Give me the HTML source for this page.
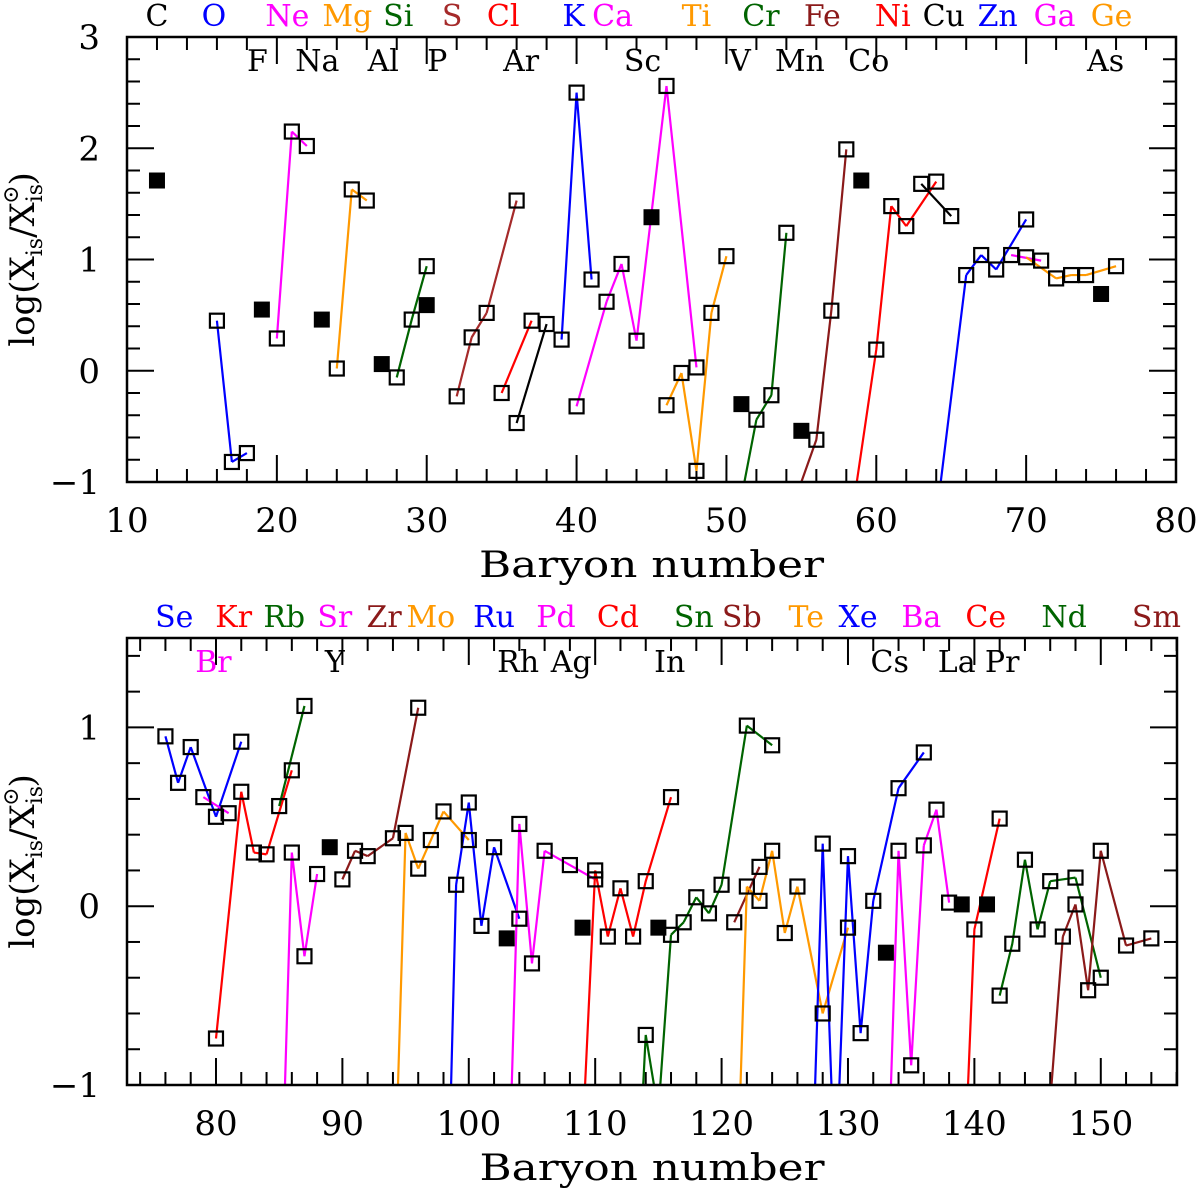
<!DOCTYPE html>
<html><head><meta charset="utf-8"><style>
html,body{margin:0;padding:0;background:#fff;width:1200px;height:1196px;overflow:hidden;}
svg{display:block;overflow:hidden;font-family:"DejaVu Serif","Liberation Serif",serif;}
</style></head><body>
<svg id="chart" width="1200" height="1196" viewBox="0 0 1200 1196" xmlns="http://www.w3.org/2000/svg">
<defs>
<clipPath id="clipTop"><rect x="127" y="37" width="1049" height="445"/></clipPath>
<clipPath id="clipBot"><rect x="127" y="638" width="1050" height="447"/></clipPath>
</defs>
</svg>
<script>
// ---------- data: top panel ----------
const topXTicks = [10,20,30,40,50,60,70,80];
const topYTicks = [-1,0,1,2,3];
const topFilledA = [12,19,23,27,30,45,51,55,59,75];
const topFilledV = [1.71,0.55,0.46,0.06,0.59,1.38,-0.30,-0.54,1.71,0.69];
const topSeriesNames = ['O','Ne','Mg','Si','S','Cl','Ar','K','Ca','Ti','Cr','Fe','Ni','Cu','Zn','Ga','Ge'];
const topSeriesA = [
 [16,17,18],[20,21,22],[24,25,26],[28,29,30],[32,33,34,36],[35,37],[36,38],[39,40,41],
 [40,42,43,44,46,48],[46,47,48,49,50],[50,52,53,54],[54,56,57,58],[58,60,61,62,64],[63,65],
 [64,66,67,68,70],[69,71],[70,72,73,74,76]];
const topSeriesV = [
 [0.45,-0.82,-0.74],[0.29,2.15,2.02],[0.02,1.63,1.53],[-0.06,0.46,0.94],[-0.23,0.30,0.52,1.53],[-0.20,0.45],[-0.47,0.42],[0.28,2.50,0.82],
 [-0.32,0.62,0.96,0.27,2.56,0.03],[-0.31,-0.02,-0.90,0.52,1.03],[-1.84,-0.44,-0.22,1.24],[-1.38,-0.62,0.54,1.99],[-1.64,0.19,1.48,1.30,1.70],[1.68,1.39],
 [-1.33,0.86,1.04,0.91,1.36],[1.04,0.99],[1.02,0.83,0.86,0.86,0.94]];
const topLabels1 = ['C','O','Ne','Mg','Si','S','Cl','K','Ca','Ti','Cr','Fe','Ni','Cu','Zn','Ga','Ge'];
const topLabels1A = [12,15.8,20.7,24.7,28.1,31.7,35.1,39.8,42.4,48,52.3,56.4,61.1,64.5,68.1,71.9,75.7];
const topLabels2 = ['F','Na','Al','P','Ar','Sc','V','Mn','Co','As'];
const topLabels2A = [18.7,22.7,27.1,30.7,36.3,44.4,50.9,54.9,59.5,75.3];

// ---------- data: bottom panel ----------
const botXTicks = [80,90,100,110,120,130,140,150];
const botYTicks = [-1,0,1];
const botFilledA = [89,103,109,115,133,139,141];
const botFilledV = [0.33,-0.18,-0.12,-0.12,-0.26,0.01,0.01];
const botSeriesNames = ['Se','Br','Kr','Rb','Sr','Zr','Mo','Ru','Pd','Cd','Sn','Sb','Te','Xe','Ba','Ce','Nd','Sm'];
const botSeriesA = [
 [76,77,78,80,82],[79,81],[80,82,83,84,86],[85,87],[84,86,87,88],[90,91,92,94,96],[94,95,96,97,98,100],
 [98,99,100,101,102,104],[102,104,105,106,108,110],[108,110,111,112,113,114,116],
 [112,114,115,116,117,118,119,120,122,124],[121,123],[120,122,123,124,125,126,128,130],
 [126,128,129,130,131,132,134,136],[132,134,135,136,137,138],[138,140,142],[142,143,144,145,146,148,150],
 [144,147,148,149,150,152,154]];
const botSeriesV = [
 [0.95,0.69,0.89,0.50,0.92],[0.61,0.52],[-0.74,0.64,0.30,0.29,0.76],[0.56,1.12],[-4.5,0.30,-0.28,0.18],[0.15,0.31,0.28,0.38,1.11],[-1.94,0.41,0.21,0.37,0.53,0.37],
 [-2.68,0.12,0.58,-0.11,0.33,-0.07],[-4.4,0.46,-0.32,0.31,0.23,0.15],[-2.8,0.20,-0.17,0.10,-0.17,0.14,0.61],
 [-3.5,-0.72,-1.15,-0.16,-0.09,0.05,-0.04,0.12,1.01,0.90],[-0.09,0.22],[-4.3,0.11,0.03,0.31,-0.15,0.11,-0.60,-0.12],
 [-4.15,0.35,-1.6,0.28,-0.71,0.03,0.66,0.86],[-4.06,0.31,-0.89,0.34,0.54,0.02],[-3.6,-0.13,0.49],[-0.50,-0.21,0.26,-0.13,0.14,0.16,-0.40],
 [-2.94,-0.17,0.01,-0.47,0.31,-0.22,-0.18]];
const botLabels1 = ['Se','Kr','Rb','Sr','Zr','Mo','Ru','Pd','Cd','Sn','Sb','Te','Xe','Ba','Ce','Nd','Sm'];
const botLabels1A = [76.7,81.4,85.4,89.4,93.3,97,102,106.9,111.8,117.8,121.6,126.7,130.8,135.8,140.9,147.1,154.4];
const botLabels2 = ['Br','Y','Rh','Ag','In','Cs','La','Pr'];
const botLabels2A = [79.8,89.4,103.9,108.1,115.9,133.3,138.6,142.2];

const colorOf = {O:'#0000ff',Ne:'#ff00ff',Mg:'#ff9900',Si:'#006400',S:'#a52a2a',Cl:'#ff0000',Ar:'#000000',K:'#0000ff',Ca:'#ff00ff',Ti:'#ff9900',Cr:'#006400',Fe:'#8b1a1a',Ni:'#ff0000',Cu:'#000000',Zn:'#0000ff',Ga:'#ff00ff',Ge:'#ff9900',C:'#000000',
 Se:'#0000ff',Br:'#ff00ff',Kr:'#ff0000',Rb:'#006400',Sr:'#ff00ff',Zr:'#8b1a1a',Mo:'#ff9900',Ru:'#0000ff',Pd:'#ff00ff',Cd:'#ff0000',Sn:'#006400',Sb:'#8b1a1a',Te:'#ff9900',Xe:'#0000ff',Ba:'#ff00ff',Ce:'#ff0000',Nd:'#006400',Sm:'#8b1a1a'};

const NS='http://www.w3.org/2000/svg';
const svg=document.getElementById('chart');
function mk(tag,attrs,parent){const e=document.createElementNS(NS,tag);for(const k in attrs)e.setAttribute(k,attrs[k]);(parent||svg).appendChild(e);return e;}

// clip a data polyline at the lower axis bound, returning segments in data space
function clipSegments(as,vs,ymin){
 const out=[];
 for(let j=0;j<as.length-1;j++){
  let a1=as[j],v1=vs[j],a2=as[j+1],v2=vs[j+1];
  if(v1<ymin&&v2<ymin)continue;
  if(v1<ymin){a1=a1+(a2-a1)*(ymin-v1)/(v2-v1);v1=ymin;}
  if(v2<ymin){a2=as[j]+(a2-as[j])*(ymin-vs[j])/(v2-vs[j]);v2=ymin;}
  out.push([a1,v1,a2,v2]);
 }
 return out;
}

function panel(cfg){
 const {x0,x1,y0,y1,xmin,xmax,ymin,ymax,clip,prefix}=cfg;
 const X=a=>x0+(a-xmin)/(xmax-xmin)*(x1-x0);
 const Y=v=>y1-(v-ymin)/(ymax-ymin)*(y1-y0);
 const g=mk('g',{});
 
 
 const tg=mk('g',{stroke:'#000','stroke-width':2},g);
 
 
 for(let a=Math.ceil(xmin/2)*2;a<=xmax;a+=2){
  const L=(a%10===0)?27:13, px=X(a);
  mk('line',{x1:px,y1:y1,x2:px,y2:y1-L},tg);
  mk('line',{x1:px,y1:y0,x2:px,y2:y0+L},tg);
 }
 for(let k=Math.ceil(ymin*5);k<=Math.floor(ymax*5);k++){
  const L=(k%5===0)?27:13, py=Y(k/5);
  mk('line',{x1:x0,y1:py,x2:x0+L,y2:py},tg);
  mk('line',{x1:x1,y1:py,x2:x1-L,y2:py},tg);
 }
 cfg.xt.forEach(a=>{const t=mk('text',{x:X(a),y:y1+50,'text-anchor':'middle','font-size':34},g);t.textContent=a;
  });
 cfg.yt.forEach(v=>{const t=mk('text',{x:100,y:Y(v)+12,'text-anchor':'end','font-size':34},g);t.textContent=v<0?'\u2212'+(-v):v;
  });
 const xt=mk('text',{x:(x0+x1)/2,y:y1+95,'text-anchor':'middle','font-size':36,textLength:345,lengthAdjust:'spacingAndGlyphs'},g);xt.textContent='Baryon number';
 
 const cy=(y0+y1)/2;
 const yt=mk('text',{x:0,y:0,'text-anchor':'middle','font-size':34,transform:`translate(34,${cy}) rotate(-90)`},g);
 yt.innerHTML='log(X<tspan font-size="22" dy="8">is</tspan><tspan dy="-8">/X</tspan><tspan font-size="22" dy="8">is</tspan><tspan font-size="22" dx="-20" dy="-24">\u2299</tspan><tspan dy="16">)</tspan>';
 
 cfg.l1.forEach((s,i)=>{const t=mk('text',{x:X(cfg.l1a[i]),y:y0-11,'text-anchor':'middle','font-size':30,fill:colorOf[s]||'#000'},g);t.textContent=s;
  });
 cfg.l2.forEach((s,i)=>{const t=mk('text',{x:X(cfg.l2a[i]),y:y0+34,'text-anchor':'middle','font-size':30,fill:colorOf[s]||'#000'},g);t.textContent=s;
  });
 const lg=mk('g',{'clip-path':`url(#${clip})`,fill:'none','stroke-width':2.2,'stroke-linejoin':'round'},g);
 cfg.names.forEach((n,i)=>{
  const segs=clipSegments(cfg.sa[i],cfg.sv[i],ymin);
  const d=segs.map(s=>'M'+X(s[0]).toFixed(2)+','+Y(s[1]).toFixed(2)+'L'+X(s[2]).toFixed(2)+','+Y(s[3]).toFixed(2)).join('');
  const pl=mk('path',{d:d,stroke:colorOf[n]},lg);
  
  
 });
 const mg=mk('g',{fill:'none',stroke:'#000','stroke-width':2.2},g);
 cfg.names.forEach((n,i)=>{
  cfg.sa[i].forEach((a,j)=>{const v=cfg.sv[i][j];if(v<ymin||v>ymax)return;
   const r=mk('rect',{x:X(a)-7,y:Y(v)-7,width:14,height:14},mg);
   
   });
 });
 cfg.fa.forEach((a,j)=>{const r=mk('rect',{x:X(a)-8,y:Y(cfg.fv[j])-8,width:16,height:16,fill:'#000'},g);
  
  });
 const fr=mk('rect',{x:x0,y:y0,width:x1-x0,height:y1-y0,fill:'none',stroke:'#000','stroke-width':2.5},g);
 
 
}

panel({prefix:'top',x0:127,x1:1176,y0:37,y1:482,xmin:10,xmax:80,ymin:-1,ymax:3,clip:'clipTop',
 xt:topXTicks,yt:topYTicks,names:topSeriesNames,sa:topSeriesA,sv:topSeriesV,fa:topFilledA,fv:topFilledV,
 l1:topLabels1,l1a:topLabels1A,l2:topLabels2,l2a:topLabels2A});
panel({prefix:'bottom',x0:127,x1:1177,y0:638,y1:1085,xmin:72.96,xmax:156.03,ymin:-1,ymax:1.5,clip:'clipBot',
 xt:botXTicks,yt:botYTicks,names:botSeriesNames,sa:botSeriesA,sv:botSeriesV,fa:botFilledA,fv:botFilledV,
 l1:botLabels1,l1a:botLabels1A,l2:botLabels2,l2a:botLabels2A});
</script>
</body></html>
